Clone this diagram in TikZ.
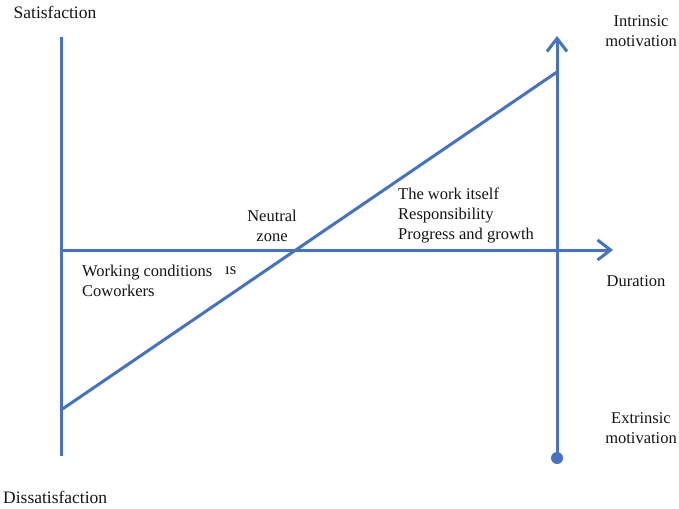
\documentclass[tikz,border=0pt]{standalone}
\usepackage{fontspec}
\setmainfont{Liberation Serif}
\usetikzlibrary{arrows.meta}
\definecolor{axisblue}{RGB}{68,114,196}
\definecolor{txt}{RGB}{20,20,20}
\begin{document}
\begin{tikzpicture}[x=1pt,y=-1pt,
  axis/.style={draw=axisblue,line width=3pt},
  tip/.style={-{Straight Barb[length=13pt,width=20pt,line width=3pt]}},
  lbl/.style={text=txt,font=\fontsize{16.5}{20}\selectfont,inner sep=0pt},
  lblL/.style={lbl,align=left},
  lblC/.style={lbl,align=center}]
\useasboundingbox (0,0) rectangle (679,508);
% coordinates
\coordinate (ltop) at (61,37);
\coordinate (lbot) at (61,456);
\coordinate (hstart) at (61,250);
\coordinate (hend) at (613,250);
\coordinate (rbot) at (557,458);
\coordinate (rtop) at (557,36);
\coordinate (dstart) at (61,410);
\coordinate (dend) at (557,72);
% axes
\draw[axis] (ltop) -- (lbot);
\draw[axis,tip] (hstart) -- (hend);
\draw[axis,tip] (rbot) -- (rtop);
\draw[axis] (dstart) -- (dend);
\fill[axisblue] (rbot) circle[radius=6];
% labels
\node[lbl,font=\fontsize{17.5}{20}\selectfont] (sat) at (55,12) {Satisfaction};
\node[lbl,font=\fontsize{17.5}{20}\selectfont,anchor=west] (dis) at (3,497) {Dissatisfaction};
\node[lblC] (intr) at (641,31) {Intrinsic\\motivation};
\node[lblC] (extr) at (641,428) {Extrinsic\\motivation};
\node[lbl] (dur) at (636,281) {Duration};
\node[lblC] (neu) at (272,226) {Neutral\\zone};
\node[lblL,anchor=west] (mot) at (398,215) {The work itself\\Responsibility\\Progress and growth};
\node[lblL,anchor=west] (hyg) at (82,281) {Working conditions\\Coworkers};
\node[lbl,anchor=west] (frag) at (225,271) {ıs};
\end{tikzpicture}
\end{document}
